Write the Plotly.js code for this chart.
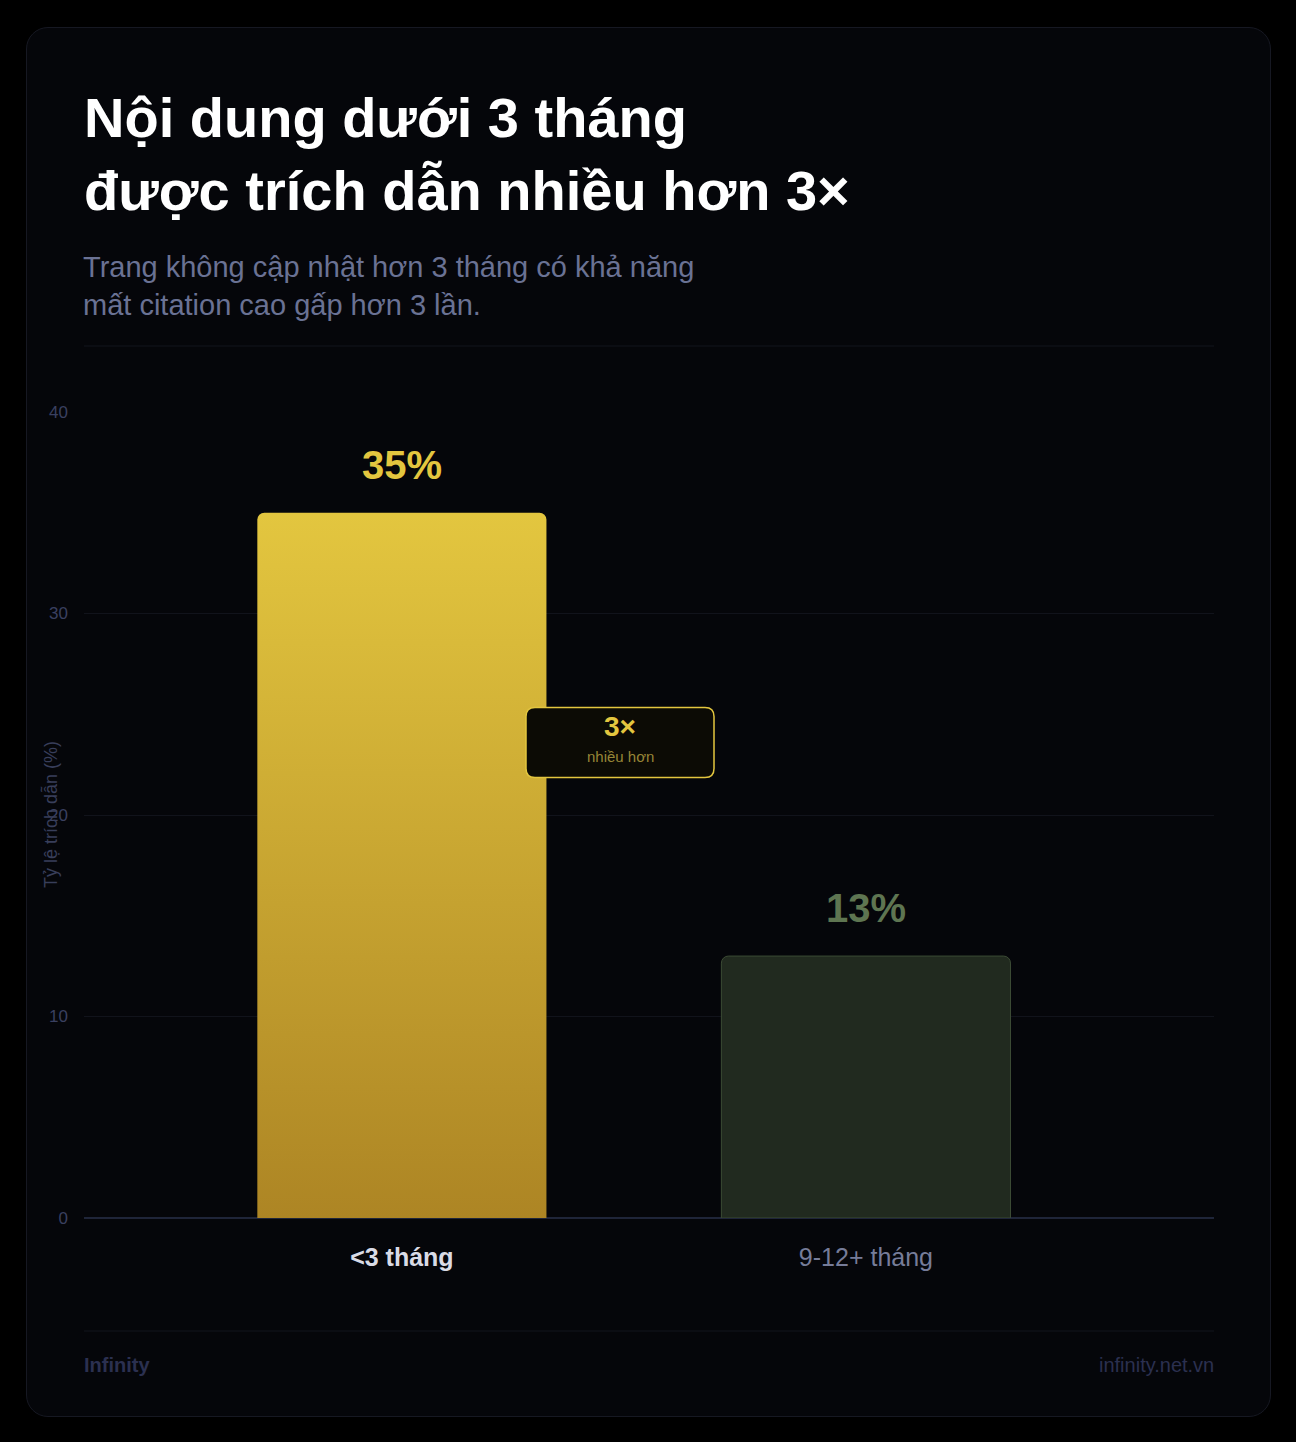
<!DOCTYPE html>
<html>
<head>
<meta charset="utf-8">
<script src="https://cdn.plot.ly/plotly-3.0.1.min.js"></script>
<style>
  html, body { margin: 0; padding: 0; background: #000; }
  #wrap { position: relative; width: 1296px; height: 1442px; }
  #card { position: absolute; left: 26px; top: 27px; width: 1243px; height: 1388px;
          border: 1px solid #161822; border-radius: 22px; background: #05060a; }
  #chart { position: absolute; left: 0; top: 0; width: 1296px; height: 1442px; }
</style>
</head>
<body>
<div id="wrap">
  <div id="card"></div>
  <div id="chart"></div>
</div>
<script>
  // data
  var categories = ["<3 tháng", "9-12+ tháng"];
  var values = [35, 13];
  var valueLabels = ["35%", "13%"];
  var yTicks = [0, 10, 20, 30, 40];

  var FONT = "'Liberation Sans', Arial, sans-serif";
  // pixel -> paper helpers (plot area is 84..1214 x 412..1218)
  function px(x) { return (x - 84) / 1130; }
  function py(y) { return (1218 - y) / 806; }

  var trace = {
    type: "bar",
    x: categories,
    y: values,
    width: 0.623,
    marker: {
      color: ["#c9a632", "#212a1f"],
      line: { color: ["rgba(0,0,0,0)", "#3b4a34"], width: 1 },
      cornerradius: 7
    },
    hoverinfo: "none"
  };

  var labelColors = ["#e3c63f", "#5e7551"];
  var annotations = categories.map(function (c, i) {
    return {
      x: c, y: values[i], xref: "x", yref: "y",
      text: "<b>" + valueLabels[i] + "</b>", showarrow: false,
      yshift: 48, font: { family: FONT, size: 40, color: labelColors[i] }
    };
  });

  // subtitle
  annotations.push({
    xref: "paper", yref: "paper", x: px(84), y: py(286), xanchor: "left", yanchor: "middle",
    xshift: -3, align: "left", showarrow: false,
    text: "Trang không cập nhật hơn 3 tháng có khả năng<br>mất citation cao gấp hơn 3 lần.",
    font: { family: FONT, size: 29, color: "#6a7294" }
  });
  // y axis title
  annotations.push({
    xref: "paper", yref: "paper", x: px(50), y: 0.5, xanchor: "center", textangle: -90, showarrow: false,
    text: "Tỷ lệ trích dẫn (%)", font: { family: FONT, size: 18, color: "#383e5a" }
  });
  // callout
  annotations.push({
    xref: "x", yref: "y", x: 0.47, y: 23.6, yshift: 16, showarrow: false,
    text: "<b>3×</b>", font: { family: FONT, size: 28, color: "#e3c63f" }
  });
  annotations.push({
    xref: "x", yref: "y", x: 0.47, y: 23.6, yshift: -14, showarrow: false,
    text: "nhiều hơn", font: { family: FONT, size: 15, color: "#978636" }
  });
  // footer
  annotations.push({
    xref: "paper", yref: "paper", x: px(84), y: py(1365), xanchor: "left", yanchor: "middle",
    xshift: -2, showarrow: false,
    text: "<b>Infinity</b>", font: { family: FONT, size: 20, color: "#2b3050" }
  });
  annotations.push({
    xref: "paper", yref: "paper", x: px(1214), y: py(1365), xanchor: "right", yanchor: "middle",
    xshift: 2, showarrow: false,
    text: "infinity.net.vn", font: { family: FONT, size: 20, color: "#2b3050" }
  });

  var w = 94, h = 35, r = 9;
  var rr = "M " + (-w + r) + " " + (-h) + " L " + (w - r) + " " + (-h) +
    " Q " + w + " " + (-h) + " " + w + " " + (-h + r) +
    " L " + w + " " + (h - r) + " Q " + w + " " + h + " " + (w - r) + " " + h +
    " L " + (-w + r) + " " + h + " Q " + (-w) + " " + h + " " + (-w) + " " + (h - r) +
    " L " + (-w) + " " + (-h + r) + " Q " + (-w) + " " + (-h) + " " + (-w + r) + " " + (-h) + " Z";

  var layout = {
    width: 1296,
    height: 1442,
    margin: { l: 84, r: 82, t: 412, b: 224 },
    paper_bgcolor: "rgba(0,0,0,0)",
    plot_bgcolor: "rgba(0,0,0,0)",
    showlegend: false,
    title: {
      text: "<b>Nội dung dưới 3 tháng<br>được trích dẫn nhiều hơn 3×</b>",
      xref: "container", yref: "container", x: 84 / 1296, xanchor: "left",
      y: 1 - 137 / 1442, yanchor: "top",
      font: { family: FONT, size: 56, color: "#ffffff" }
    },
    xaxis: {
      type: "category",
      range: [-0.685, 1.75],
      tickvals: categories,
      ticktext: ["<b><span style='color:#d9dbe6'>&lt;3 tháng</span></b>",
                 "<span style='color:#767c99'>9-12+ tháng</span>"],
      tickfont: { family: FONT, size: 25 },
      ticks: "", showgrid: false, zeroline: false, showline: false,
      ticklabelstandoff: 22, fixedrange: true
    },
    yaxis: {
      range: [0, 40],
      tickvals: yTicks,
      tickfont: { family: FONT, size: 17, color: "#3a4060" },
      gridcolor: "#11131b", gridwidth: 1,
      zeroline: true, zerolinecolor: "#1f2539", zerolinewidth: 2,
      showline: false, ticks: "", ticklabelstandoff: 15, fixedrange: true
    },
    shapes: [
      { type: "line", xref: "paper", yref: "paper", x0: 0, x1: 1, y0: py(346), y1: py(346),
        line: { color: "#12141c", width: 1 } },
      { type: "line", xref: "paper", yref: "paper", x0: 0, x1: 1, y0: py(1331), y1: py(1331),
        line: { color: "#12141c", width: 1 } },
      { type: "path", xref: "x", yref: "y", xsizemode: "pixel", ysizemode: "pixel",
        xanchor: 0.47, yanchor: 23.6, path: rr, layer: "above",
        fillcolor: "#0c0b05", line: { color: "#e3c63f", width: 1.5 } }
    ],
    annotations: annotations
  };

  Plotly.newPlot("chart", [trace], layout, { displayModeBar: false, staticPlot: true }).then(function () {
    // vertical gradient on the first bar
    var svg = document.querySelector("#chart .main-svg");
    var ns = "http://www.w3.org/2000/svg";
    var defs = svg.querySelector("defs") || svg.insertBefore(document.createElementNS(ns, "defs"), svg.firstChild);
    var g = document.createElementNS(ns, "linearGradient");
    g.setAttribute("id", "barGrad");
    g.setAttribute("x1", "0"); g.setAttribute("y1", "0");
    g.setAttribute("x2", "0"); g.setAttribute("y2", "1");
    [["0", "#e3c63f"], ["1", "#ad8524"]].forEach(function (s) {
      var st = document.createElementNS(ns, "stop");
      st.setAttribute("offset", s[0]);
      st.setAttribute("stop-color", s[1]);
      g.appendChild(st);
    });
    defs.appendChild(g);
    var bar = document.querySelector("#chart .barlayer .point path");
    if (bar) bar.style.fill = "url(#barGrad)";
  });
</script>
</body>
</html>
